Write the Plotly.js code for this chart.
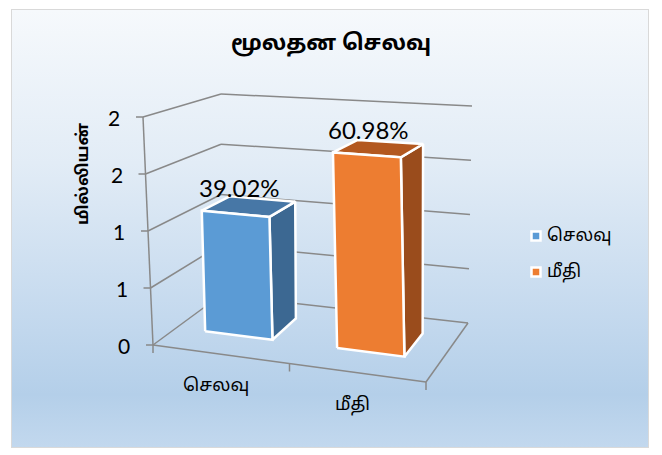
<!DOCTYPE html>
<html><head><meta charset="utf-8">
<script src="https://cdn.plot.ly/plotly-3.0.1.min.js"></script>
<style>
body{margin:0;background:#fff}
#wrap{position:relative;width:662px;height:455px;overflow:hidden}
#bg{position:absolute;left:11px;top:9px;width:636px;height:437px;border:1px solid #d9d9d9;
background:linear-gradient(to bottom,#f6f9fc 0%,#e2ecf6 35%,#c4d9ee 70%,#b4cfe9 88%,#c2d8ee 100%)}
#chart{position:absolute;left:0;top:0;width:662px;height:455px}
</style></head>
<body><div id="wrap"><div id="bg"></div><div id="chart"></div></div>
<script>
// ---- data ----
const chartTitle = 'மூலதன செலவு';
const yAxisTitle = 'மில்லியன்';
const categories = ['செலவு', 'மீதி'];
const values = [1.093, 1.708];
const dataLabels = ['39.02%', '60.98%'];
const yTickVals = [0, 0.5, 1, 1.5, 2];
const yTickText = ['0', '1', '1', '2', '2'];
const frontColors = ['#5b9bd5', '#ed7d31'];
const topColors = ['#4777a6', '#b3581f'];
const sideColors = ['#3c6892', '#9a4c1c'];

// ---- 3D view geometry (screen placement of the box) ----
const VMAX = 2;
const floorC = {FL:[153,345], FR:[426,382], BL:[221,295], BR:[468,323]};
const topC   = {FL:[143,117], FR:[418,136], BL:[221,94],  BR:[472,106]};
function bil(c,u,d){
  const fx=c.FL[0]+(c.FR[0]-c.FL[0])*u, fy=c.FL[1]+(c.FR[1]-c.FL[1])*u;
  const bx=c.BL[0]+(c.BR[0]-c.BL[0])*u, by=c.BL[1]+(c.BR[1]-c.BL[1])*u;
  return [fx+(bx-fx)*d, fy+(by-fy)*d];
}
function P(u,v,d){
  const a=bil(floorC,u,d), b=bil(topC,u,d), t=v/VMAX;
  return [a[0]+(b[0]-a[0])*t, a[1]+(b[1]-a[1])*t];
}
const n = categories.length;
const barHalf = 0.1275, d0 = 0.35, d1 = 0.75;
const center = i => (i+0.5)/n - 0.015;

const TAMIL = "'Noto Sans Tamil','Latha','Noto Sans',sans-serif";
const NUM = "Lato,'Liberation Sans',sans-serif";
const traces = [];
const annotations = [];

// walls / grid
const gx=[], gy=[];
function seg(p,q){gx.push(p[0],q[0],null); gy.push(p[1],q[1],null);}
yTickVals.forEach((v,k)=>{
  seg(P(0,v,0),P(0,v,1));           // left wall
  seg(P(0,v,1),P(1,v,1));           // back wall
  const p=P(0,v,0); seg(p,[p[0]-7,p[1]]); // tick
  annotations.push({x:p[0]-29,y:p[1],text:yTickText[k],showarrow:false,
    xanchor:'center',yanchor:'middle',font:{family:NUM,size:21,color:'#000'}});
});
seg(P(0,0,0),P(0,VMAX,0));           // vertical axis
seg(P(0,0,0),P(1,0,0));              // front floor edge
seg(P(1,0,0),P(1,0,1));              // right floor edge
for(let k=0;k<=n;k++){const p=P(k/n,0,0); seg(p,[p[0],p[1]+8]);}
traces.push({x:gx,y:gy,mode:'lines',line:{color:'#898989',width:1.5},hoverinfo:'skip',showlegend:false});

// bars
function poly(pts,fill){
  const xs=pts.map(p=>p[0]), ys=pts.map(p=>p[1]); xs.push(xs[0]); ys.push(ys[0]);
  traces.push({x:xs,y:ys,mode:'lines',fill:'toself',fillcolor:fill,
    line:{color:'#ffffff',width:2.5},hoverinfo:'skip',showlegend:false});
}
categories.forEach((c,i)=>{
  const v=values[i], u0=center(i)-barHalf, u1=center(i)+barHalf;
  poly([P(u1,0,d0),P(u1,0,d1),P(u1,v,d1),P(u1,v,d0)], sideColors[i]);
  poly([P(u0,v,d0),P(u1,v,d0),P(u1,v,d1),P(u0,v,d1)], topColors[i]);
  poly([P(u0,0,d0),P(u1,0,d0),P(u1,v,d0),P(u0,v,d0)], frontColors[i]);
  const t=P(center(i),v,0.55);
  annotations.push({x:t[0]-10,y:t[1]-19,text:dataLabels[i],showarrow:false,
    xanchor:'center',yanchor:'middle',font:{family:NUM,size:24,color:'#000'}});
  const b=P(center(i),0,0);
  annotations.push({x:b[0]-1,y:b[1]+33,text:c,showarrow:false,
    xanchor:'center',yanchor:'middle',font:{family:TAMIL,size:18,color:'#000'}});
  // legend entry
  const ly = 236 + 36*i;
  traces.push({x:[536],y:[ly],mode:'markers',marker:{symbol:'square',size:9,color:frontColors[i],
    line:{color:'#ffffff',width:2.5}},hoverinfo:'skip',showlegend:false});
  annotations.push({x:545,y:ly,text:c,showarrow:false,xanchor:'left',yanchor:'middle',
    font:{family:TAMIL,size:17.5,color:'#000'}});
});
annotations.push({x:84,y:174,text:'<b>'+yAxisTitle+'</b>',textangle:-90,showarrow:false,
  xanchor:'center',yanchor:'middle',font:{family:TAMIL,size:16.5,color:'#000'}});

const layout = {
  width:662,height:455,margin:{l:0,r:0,t:0,b:0},
  paper_bgcolor:'rgba(0,0,0,0)',plot_bgcolor:'rgba(0,0,0,0)',
  title:{text:'<b>'+chartTitle+'</b>',x:0.5,xanchor:'center',y:1-42/455,yanchor:'middle',
    font:{family:TAMIL,size:22,color:'#000'}},
  xaxis:{range:[0,662],visible:false,fixedrange:true},
  yaxis:{range:[455,0],visible:false,fixedrange:true},
  annotations:annotations,showlegend:false
};
Plotly.newPlot('chart',traces,layout,{staticPlot:true,displayModeBar:false});
</script></body></html>
